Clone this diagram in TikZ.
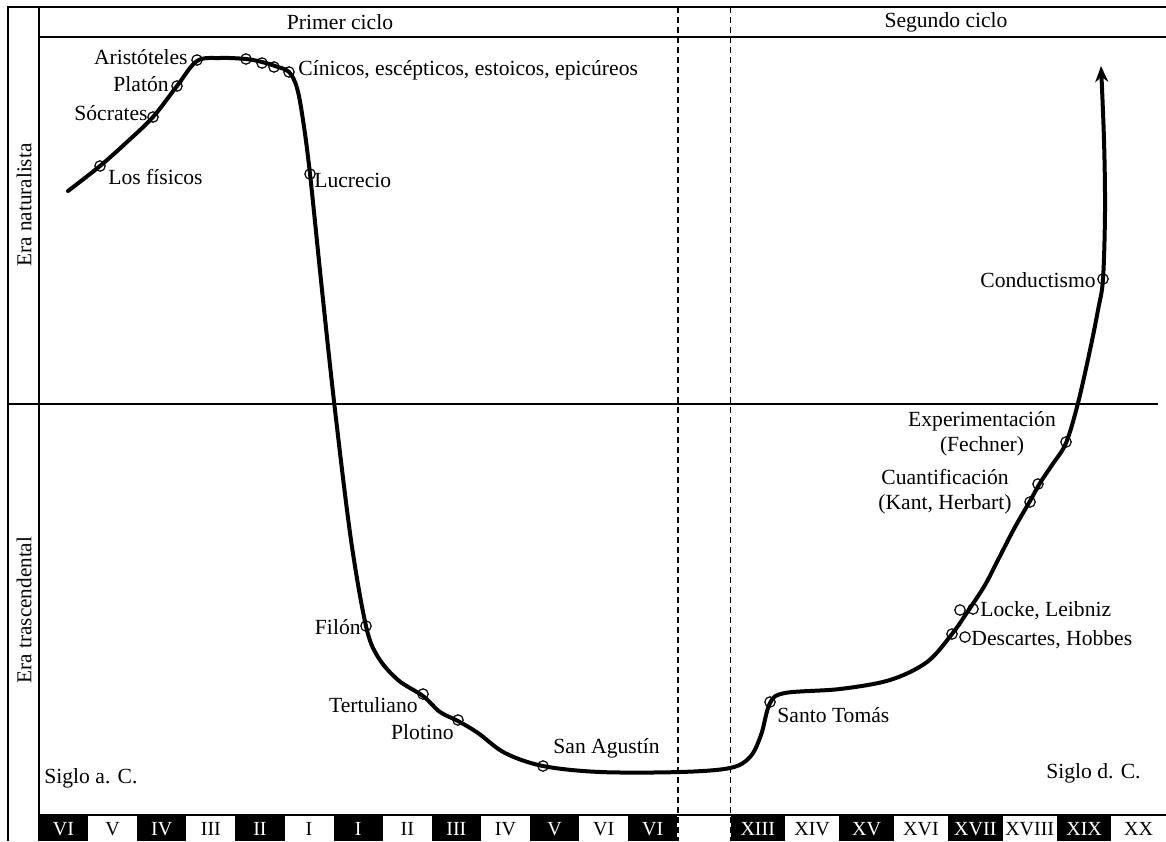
\documentclass[tikz,border=0pt]{standalone}
\usepackage{fontspec}
\setmainfont{Liberation Serif}
\usetikzlibrary{arrows.meta}

\begin{document}
\begin{tikzpicture}[x=0.5pt,y=-0.5pt,
  frame/.style={line width=0.8pt},
  rule/.style={line width=0.6pt},
  divider/.style={line width=0.7pt, dash pattern=on 3pt off 2pt},
  curve/.style={line width=2pt, line cap=round, line join=round},
  marker/.style={line width=0.6pt},
  lbl/.style={inner sep=0pt, font=\fontsize{10.8}{13}\selectfont},
  twoline/.style={lbl, align=center, font=\fontsize{10.8}{12.5}\selectfont},
  era/.style={inner sep=0pt, rotate=90, font=\fontsize{10.6}{12}\selectfont},
  numb/.style={inner sep=0pt, font=\fontsize{10}{12}\selectfont, text=white},
  numw/.style={inner sep=0pt, font=\fontsize{10}{12}\selectfont, text=black},
]
\useasboundingbox (0,0) rectangle (1166,841);

% century bar: BC side
\foreach \t [count=\i from 0] in {VI,V,IV,III,II,I,I,II,III,IV,V,VI,VI} {
  \pgfmathsetmacro\xa{39+\i*49.1}
  \pgfmathsetmacro\xc{\xa+24.55}
  \ifodd\i
    \node[numw] (bc\i) at (\xc,829) {\t};
  \else
    \fill (\xa,815) rectangle ({\xa+49.1},841);
    \node[numb] (bc\i) at (\xc,829) {\t};
  \fi
}
% century bar: AD side
\foreach \t [count=\i from 0] in {XIII,XIV,XV,XVI,XVII,XVIII,XIX,XX} {
  \pgfmathsetmacro\xa{730.5+\i*54.4}
  \pgfmathsetmacro\xc{\xa+27.2}
  \ifodd\i
    \node[numw] (ad\i) at (\xc,829) {\t};
  \else
    \fill (\xa,815) rectangle ({\xa+54.4},841);
    \node[numb] (ad\i) at (\xc,829) {\t};
  \fi
}

% frame and rules
\draw[frame] (1166,7) -- (8,7) -- (8,841);
\draw[frame] (39,7) -- (39,841);
\draw[frame] (39,37) -- (1166,37);
\draw[rule] (8,404) -- (1158,404);
\draw[rule] (39,815) -- (1166,815);
\draw[divider] (678,7) -- (678,841);
\draw[divider] (730.5,7) -- (730.5,841);

% headers
\node[lbl] (c1) at (340,22) {Primer ciclo};
\node[lbl] (c2) at (946,22) {Segundo ciclo};
\node[era] (e1) at (24,205) {Era naturalista};
\node[era] (e2) at (24,610) {Era trascendental};
\node[lbl, anchor=west] (sa) at (44,778) {Siglo a. C.};
\node[lbl, anchor=east] (sd) at (1141,773) {Siglo d. C.};

% the historical curve
\draw[curve, -{Stealth[length=8pt,width=6.5pt]}] plot[smooth, tension=0.55] coordinates {
  (68,191) (100,166) (127,142) (153,117) (177,86) (197,61) (220,58)
  (246,59) (262,62) (275,66) (289,72) (297,88) (303,120) (310,174)
  (322,290) (335,410) (351,540) (366,626) (378,657) (398,680) (423,696)
  (440,712) (458,721) (478,733) (505,753) (543,766) (600,772) (680,772)
  (730,768) (750,757) (761,735) (770,703) (785,693) (840,689) (890,680)
  (927,662) (952,634) (968,611) (985,585) (1000,556) (1015,527) (1030,501)
  (1040,483) (1052,465) (1066,443) (1078,403) (1090,350) (1098,310)
  (1103,279) (1105,210) (1104,140) (1101,66)};

% markers
\foreach \n/\px/\py in {m1/100/166, m2/153/117, m3/177/86, m4/197/60,
  m5/246/59, m6/262/63, m7/274/67, m8/289/72, m9/310/174,
  m10/366/626, m11/423/694, m12/458/720, m13/543/766,
  m14/770/702, m15/952/634, m16/965/637, m17/960/610,
  m18/973/609, m19/1030/502, m20/1038/484, m21/1066/442,
  m22/1103/279} {
  \draw[marker] (\px,\py) coordinate (\n) circle[radius=2.6pt];
}

% labels
\node[lbl, anchor=east] (l4) at (188,57) {Aristóteles};
\node[lbl, anchor=east] (l3) at (169,84) {Platón};
\node[lbl, anchor=east] (l2) at (148,113) {Sócrates};
\node[lbl, anchor=west] (l1) at (108,177) {Los físicos};
\node[lbl, anchor=west] (l8) at (298,70) {Cínicos, escépticos, estoicos, epicúreos};
\node[lbl, anchor=west] (l9) at (314,180) {Lucrecio};
\node[lbl, anchor=east] (l10) at (361,627) {Filón};
\node[lbl, anchor=east] (l11) at (418,705) {Tertuliano};
\node[lbl, anchor=east] (l12) at (454,732) {Plotino};
\node[lbl, anchor=west] (l13) at (553,748) {San Agustín};
\node[lbl, anchor=west] (l14) at (777,715) {Santo Tomás};
\node[lbl, anchor=west] (l15) at (971,640) {Descartes, Hobbes};
\node[lbl, anchor=west] (l17) at (980,611) {Locke, Leibniz};
\node[twoline] (l19) at (945,492) {Cuantificación\\(Kant, Herbart)};
\node[twoline] (l21) at (982,434) {Experimentación\\(Fechner)};
\node[lbl, anchor=east] (l22) at (1096,280) {Conductismo};
\end{tikzpicture}
\end{document}
